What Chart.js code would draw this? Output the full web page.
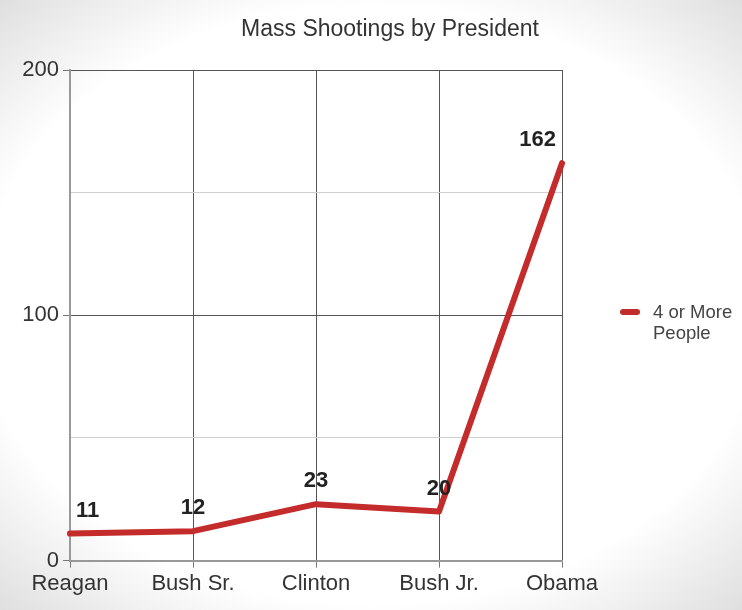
<!DOCTYPE html>
<html>
<head>
<meta charset="utf-8">
<script src="https://cdn.jsdelivr.net/npm/chart.js@4"></script>
<style>
  html, body {
    margin: 0;
    padding: 0;
  }
  body {
    width: 742px;
    height: 610px;
    overflow: hidden;
    background: radial-gradient(ellipse 75% 70% at 50% 50%, #ffffff 70%, #dcdcdc 100%);
    font-family: "Liberation Sans", Arial, sans-serif;
  }
  .wrap {
    position: relative;
    width: 742px;
    height: 610px;
  }
  .title {
    position: absolute;
    left: 190px;
    width: 400px;
    top: 14px;
    text-align: center;
    color: #333;
    font-size: 23px;
    line-height: 28px;
  }
  .legend {
    position: absolute;
    left: 620px;
    top: 301px;
    display: flex;
    align-items: flex-start;
    color: #444;
    font-size: 18.5px;
    line-height: 21px;
  }
  .legend .swatch {
    width: 20px;
    height: 6px;
    border-radius: 3px;
    background: #c42b2b;
    margin-top: 8px;
    margin-right: 13px;
  }
</style>
</head>
<body>
<div class="wrap">
  <canvas id="myChart" width="742" height="610"></canvas>
  <div class="title">Mass Shootings by President</div>
  <div class="legend">
    <div class="swatch"></div>
    <div class="legend-text">4 or More<br>People</div>
  </div>
</div>
<script>
const presidents = ["Reagan", "Bush Sr.", "Clinton", "Bush Jr.", "Obama"];
const shootings = [11, 12, 23, 20, 162];
const yLabels = [0, 100, 200];

const lineRed = "#c42b2b";

// value labels above each point
const pointLabels = {
  id: "pointLabels",
  afterDatasetsDraw(chart) {
    const ctx = chart.ctx;
    const area = chart.chartArea;
    const meta = chart.getDatasetMeta(0);
    ctx.save();
    ctx.font = "bold 22px 'Liberation Sans', Arial, sans-serif";
    ctx.fillStyle = "#222";
    ctx.textAlign = "center";
    ctx.textBaseline = "middle";
    meta.data.forEach((pt, i) => {
      let text = String(shootings[i]);
      let w = ctx.measureText(text).width;
      let x = Math.min(Math.max(pt.x, area.left + w / 2 + 6), area.right - w / 2 - 6);
      ctx.fillText(text, x, pt.y - 23);
    });
    ctx.restore();
  },
};

const ctx = document.getElementById("myChart");

new Chart(ctx, {
  type: "line",
  data: {
    labels: presidents,
    datasets: [
      {
        label: "4 or More People",
        data: shootings,
        borderColor: lineRed,
        backgroundColor: lineRed,
        borderWidth: 6,
        pointRadius: 0,
        borderJoinStyle: "round",
        borderCapStyle: "round",
        tension: 0,
      },
    ],
  },
  options: {
    responsive: false,
    animation: false,
    layout: {
      padding: { left: 0, right: 180, top: 70, bottom: 10 },
    },
    plugins: {
      legend: { display: false },
      tooltip: { enabled: false },
      title: { display: false },
    },
    scales: {
      x: {
        offset: false,
        grid: {
          color: "#555",
          lineWidth: 1,
          tickLength: 7,
          tickColor: "#777",
        },
        border: { color: "#999", width: 2 },
        ticks: {
          color: "#333",
          padding: 3,
          maxRotation: 0,
          font: { family: "'Liberation Sans', Arial, sans-serif", size: 22 },
        },
      },
      y: {
        min: 0,
        max: 200,
        afterFit(scale) {
          scale.width = 70;
        },
        grid: {
          color: (c) => (c.tick && c.tick.value % 100 === 0 ? "#555" : "#d0d0d0"),
          lineWidth: 1,
          tickLength: 7,
          tickColor: (c) => (c.tick && c.tick.value % 100 === 0 ? "#777" : "rgba(0,0,0,0)"),
        },
        border: { color: "#999", width: 2 },
        ticks: {
          stepSize: 50,
          color: "#333",
          padding: 4,
          font: { family: "'Liberation Sans', Arial, sans-serif", size: 22 },
          callback: (v) => (yLabels.includes(v) ? String(v) : ""),
        },
      },
    },
  },
  plugins: [pointLabels],
});
</script>
</body>
</html>
